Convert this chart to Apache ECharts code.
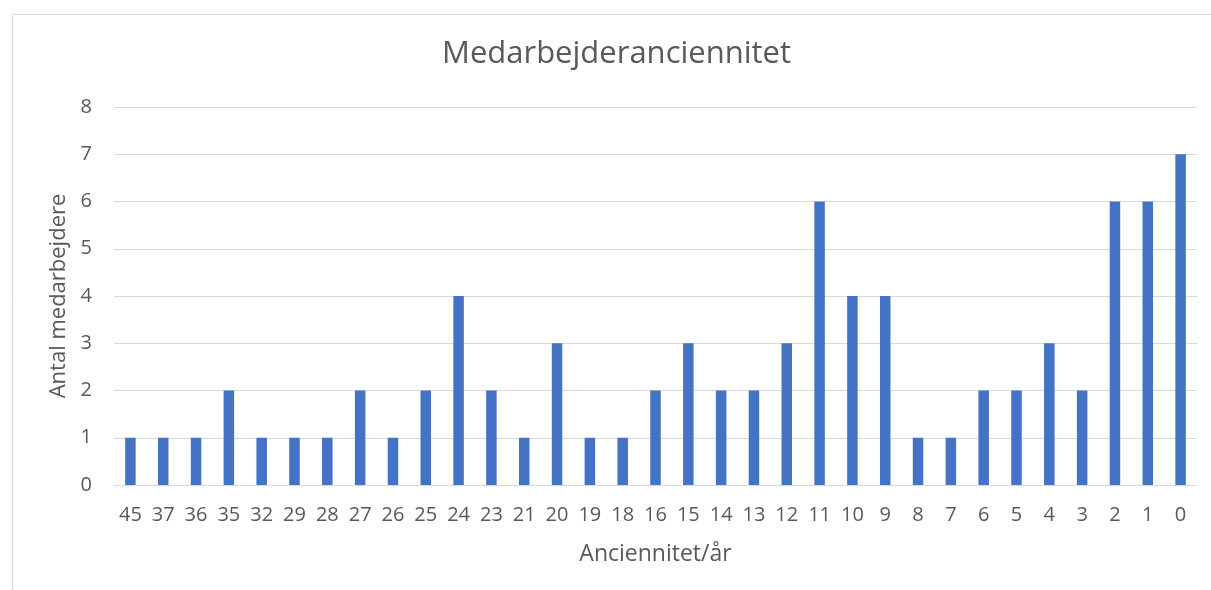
<!DOCTYPE html>
<html>
<head>
<meta charset="utf-8">
<script src="https://cdn.jsdelivr.net/npm/echarts@6/dist/echarts.min.js"></script>
<style>html,body{margin:0;padding:0;background:#fff}#c{width:1211px;height:590px}</style>
</head>
<body>
<div id="c"></div>
<script>
const categories = ['45','37','36','35','32','29','28','27','26','25','24','23','21','20','19','18','16','15','14','13','12','11','10','9','8','7','6','5','4','3','2','1','0'];
const values = [1,1,1,2,1,1,1,2,1,2,4,2,1,3,1,1,2,3,2,2,3,6,4,4,1,1,2,2,3,2,6,6,7];
const yTicks = [0,1,2,3,4,5,6,7,8];

const FONT = 'Open Sans';
const chart = echarts.init(document.getElementById('c'), null, {renderer: 'canvas'});
chart.setOption({
  animation: false,
  textStyle: {fontFamily: FONT},
  graphic: [{
    type: 'rect', left: 10, top: 12, shape: {width: 1230, height: 600},
    style: {fill: 'none', stroke: '#d9d9d9', lineWidth: 1}, silent: true
  }],
  title: {
    text: 'Medarbejderanciennitet', left: 437, top: 34,
    textStyle: {fontFamily: FONT, fontSize: 31, fontWeight: 'normal', color: '#595959'}
  },
  grid: {left: 114, right: 14, top: 107, bottom: 105, containLabel: false},
  xAxis: {
    type: 'category', data: categories,
    name: 'Anciennitet/år', nameLocation: 'middle', nameGap: 58,
    nameTextStyle: {fontFamily: FONT, fontSize: 23, color: '#595959'},
    axisLine: {lineStyle: {color: '#d9d9d9', width: 1}},
    axisTick: {show: false},
    axisLabel: {interval: 0, margin: 20, fontFamily: FONT, fontSize: 20, color: '#595959'}
  },
  yAxis: {
    type: 'value', min: yTicks[0], max: yTicks[yTicks.length-1], interval: 1,
    name: 'Antal medarbejdere', nameLocation: 'middle', nameGap: 43, nameRotate: 90,
    nameTextStyle: {fontFamily: FONT, fontSize: 22, color: '#595959'},
    axisLine: {show: false}, axisTick: {show: false},
    axisLabel: {margin: 22, fontFamily: FONT, fontSize: 20, color: '#595959'},
    splitLine: {lineStyle: {color: '#d9d9d9', width: 1}}
  },
  series: [{
    type: 'bar', data: values, barWidth: '32%',
    itemStyle: {color: '#4472C4'}
  }]
});
</script>
</body>
</html>
